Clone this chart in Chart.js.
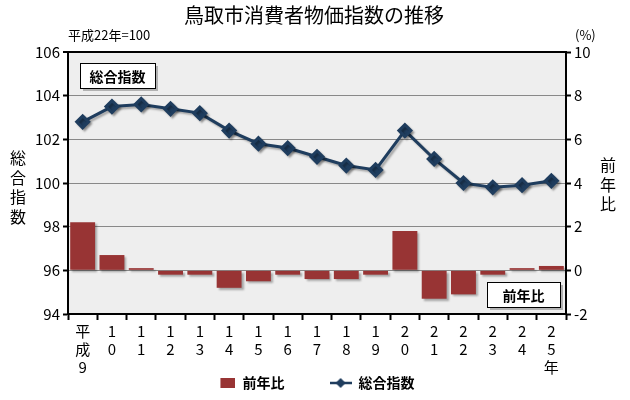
<!DOCTYPE html>
<html>
<head>
<meta charset="utf-8">
<script src="https://cdn.jsdelivr.net/npm/chart.js@4.4.1/dist/chart.umd.min.js"></script>
<style>
  html, body { margin: 0; padding: 0; background: #fff; }
</style>
</head>
<body>
<canvas id="cpiChart" width="630" height="400"></canvas>
<script>
const years = ["9", "10", "11", "12", "13", "14", "15", "16", "17", "18", "19", "20", "21", "22", "23", "24", "25"];
const indexValues = [102.8, 103.5, 103.6, 103.4, 103.2, 102.4, 101.8, 101.6, 101.2, 100.8, 100.6, 102.4, 101.1, 100.0, 99.8, 99.9, 100.1];
const yoyValues = [2.2, 0.7, 0.1, -0.2, -0.2, -0.8, -0.5, -0.2, -0.4, -0.4, -0.2, 1.8, -1.3, -1.1, -0.2, 0.1, 0.2];

const FONT = '"Noto Sans CJK JP", sans-serif';
const BAR_COLOR = "#983434";
const LINE_COLOR = "#1f3d5e";

// x labels are written top to bottom, one character per line
const labels = years.map((y, i) => {
  const chars = y.split("");
  if (i === 0) return ["平", "成", ...chars];
  if (i === years.length - 1) return [...chars, "年"];
  return chars;
});

// legend icons
const barIcon = document.createElement("canvas");
barIcon.width = 22;
barIcon.height = 10;
let g = barIcon.getContext("2d");
g.fillStyle = BAR_COLOR;
g.fillRect(7, 0, 15, 10);

const lineIcon = document.createElement("canvas");
lineIcon.width = 22;
lineIcon.height = 12;
g = lineIcon.getContext("2d");
g.strokeStyle = LINE_COLOR;
g.lineWidth = 2.5;
g.beginPath();
g.moveTo(0, 6);
g.lineTo(22, 6);
g.stroke();
g.fillStyle = LINE_COLOR;
g.beginPath();
g.moveTo(11, 1);
g.lineTo(16, 6);
g.lineTo(11, 11);
g.lineTo(6, 6);
g.closePath();
g.fill();

const drawBox = (ctx, x, y, w, h, text) => {
  ctx.fillStyle = "rgba(0,0,0,0.25)";
  ctx.fillRect(x + 3, y + 3, w, h);
  ctx.fillStyle = "#fff";
  ctx.fillRect(x, y, w, h);
  ctx.strokeStyle = "#000";
  ctx.lineWidth = 1;
  ctx.strokeRect(x + 0.5, y + 0.5, w, h);
  ctx.fillStyle = "#000";
  ctx.font = "bold 14px " + FONT;
  ctx.textAlign = "center";
  ctx.textBaseline = "middle";
  ctx.fillText(text, x + w / 2, y + h / 2 + 1);
};

const drawStacked = (ctx, text, x, y, step) => {
  ctx.fillStyle = "#000";
  ctx.font = "16px " + FONT;
  ctx.textAlign = "center";
  ctx.textBaseline = "middle";
  text.split("").forEach((ch, i) => ctx.fillText(ch, x, y + i * step));
};

const decor = {
  id: "decor",
  beforeDraw(chart) {
    const { ctx, chartArea: a } = chart;
    ctx.save();
    ctx.fillStyle = "#eeeeee";
    ctx.fillRect(a.left, a.top, a.right - a.left, a.bottom - a.top);
    ctx.restore();
  },
  // soft drop shadow under bars and line, like the original
  beforeDatasetDraw(chart) {
    const ctx = chart.ctx;
    ctx.save();
    ctx.shadowColor = "rgba(0,0,0,0.3)";
    ctx.shadowOffsetX = 2;
    ctx.shadowOffsetY = 2;
    ctx.shadowBlur = 2;
  },
  afterDatasetDraw(chart) {
    chart.ctx.restore();
  },
  afterDraw(chart) {
    const { ctx, chartArea: a } = chart;
    ctx.save();
    ctx.fillStyle = "#000";
    ctx.font = "13px " + FONT;
    ctx.textBaseline = "middle";
    ctx.textAlign = "left";
    ctx.fillText("平成22年=100", a.left, 35);
    ctx.fillText("(%)", a.right + 9, 35);
    drawStacked(ctx, "総合指数", 18, 158, 19.5);
    drawStacked(ctx, "前年比", 608, 165, 19.5);
    drawBox(ctx, a.left + 12, a.top + 11, 75, 25, "総合指数");
    drawBox(ctx, a.right - 79, a.bottom - 32, 73, 25, "前年比");
    ctx.restore();
  },
};

new Chart(document.getElementById("cpiChart").getContext("2d"), {
  type: "bar",
  data: {
    labels: labels,
    datasets: [
      {
        type: "bar",
        label: "前年比",
        data: yoyValues,
        yAxisID: "y1",
        backgroundColor: BAR_COLOR,
        barPercentage: 0.85,
        categoryPercentage: 1,
        order: 2,
      },
      {
        type: "line",
        label: "総合指数",
        data: indexValues,
        yAxisID: "y",
        borderColor: LINE_COLOR,
        backgroundColor: LINE_COLOR,
        borderWidth: 3,
        pointStyle: "rectRot",
        pointRadius: 6,
        pointHoverRadius: 6,
        tension: 0,
        order: 1,
      },
    ],
  },
  options: {
    responsive: false,
    animation: false,
    layout: { padding: { left: 32, right: 34, top: 0, bottom: 0 } },
    plugins: {
      title: {
        display: true,
        text: "鳥取市消費者物価指数の推移",
        color: "#000",
        font: { family: FONT, size: 20, weight: "normal" },
        padding: { top: 3, bottom: 25 },
      },
      legend: {
        position: "bottom",
        labels: {
          color: "#000",
          font: { family: FONT, size: 14, weight: "bold" },
          usePointStyle: true,
          pointStyleWidth: 22,
          padding: 0,
          generateLabels: (chart) =>
            chart.data.datasets.map((ds, i) => ({
              text: i === 0 ? ds.label + "\u3000\u3000\u3000 " : ds.label,
              pointStyle: i === 0 ? barIcon : lineIcon,
              fillStyle: ds.backgroundColor,
              strokeStyle: "transparent",
              lineWidth: 0,
              fontColor: "#000",
              hidden: false,
              datasetIndex: i,
            })),
        },
      },
      tooltip: { enabled: false },
    },
    scales: {
      x: {
        grid: {
          offset: true,
          drawOnChartArea: false,
          tickLength: 6,
          tickColor: "#000",
          tickWidth: 2,
        },
        border: { color: "#000", width: 2 },
        ticks: {
          color: "#000",
          font: { family: FONT, size: 15, lineHeight: 1.2 },
          padding: 2,
          maxRotation: 0,
          autoSkip: false,
        },
        afterFit: (s) => {
          s.height = 62;
        },
      },
      y: {
        position: "left",
        min: 94,
        max: 106,
        ticks: {
          stepSize: 2,
          color: "#000",
          font: { family: FONT, size: 15 },
          padding: 3,
        },
        grid: {
          color: (c) => (c.tick && c.tick.value === 106 ? "#000" : "#888"),
          lineWidth: (c) => (c.tick && c.tick.value === 106 ? 2 : 1),
          tickColor: "#000",
          tickLength: 5,
          tickWidth: 2,
        },
        border: { color: "#000", width: 2 },
        afterFit: (s) => {
          s.width = 36;
        },
      },
      y1: {
        position: "right",
        min: -2,
        max: 10,
        ticks: {
          stepSize: 2,
          color: "#000",
          font: { family: FONT, size: 15 },
          padding: 3,
        },
        grid: {
          drawOnChartArea: false,
          tickColor: "#000",
          tickLength: 5,
          tickWidth: 2,
        },
        border: { color: "#000", width: 2 },
        afterFit: (s) => {
          s.width = 30;
        },
      },
    },
  },
  plugins: [decor],
});
</script>
</body>
</html>
